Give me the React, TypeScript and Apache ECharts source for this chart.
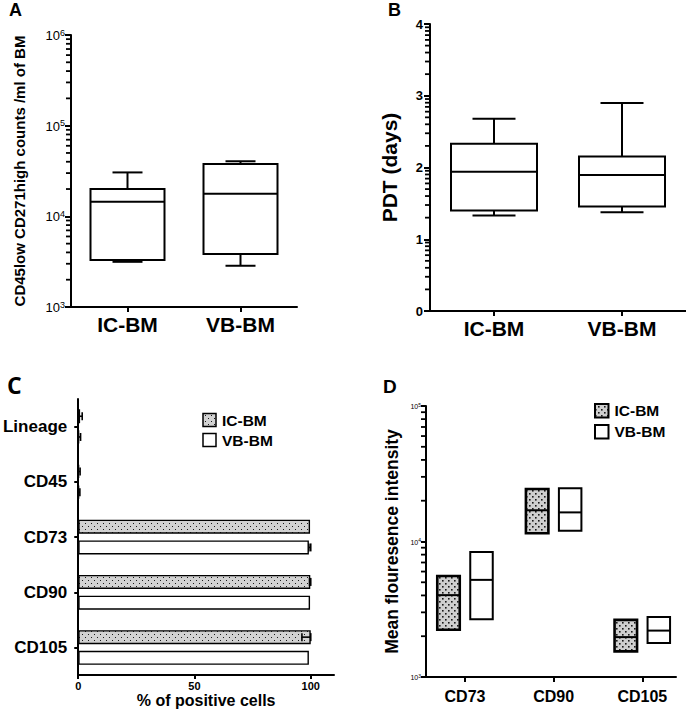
import React, { useEffect, useRef } from 'react';
import * as echarts from 'echarts';

// ---------- data ----------
const groupsAB = ['IC-BM', 'VB-BM'];
// Panel A: CD45low CD271high counts (min, Q1, median, Q3, max)
const countsBox = [
  [3150, 3300, 14500, 20000, 30500],
  [2850, 3850, 17700, 37800, 40500],
];
// Panel B: PDT days (min, Q1, median, Q3, max)
const pdtBox = [
  [1.33, 1.4, 1.94, 2.33, 2.68],
  [1.375, 1.455, 1.895, 2.155, 2.9],
];
// Panel C: % of positive cells
const markersC = ['Lineage', 'CD45', 'CD73', 'CD90', 'CD105'];
const icPct = [0.8, 0.3, 99.7, 99.8, 100];
const vbPct = [0.3, 0.3, 99.2, 99.7, 99.2];
const icErrLo = [0, 0, 99.7, 99.5, 96.2];
const icErrHi = [1.7, 0.8, 99.7, 100, 100];
const vbErrLo = [0, 0, 99.2, 99.7, 99.2];
const vbErrHi = [1.0, 0.7, 100, 99.7, 99.2];
const pctTicks = [0, 50, 100];
// Panel D: mean fluorescence intensity (low, median, high)
const markersD = ['CD73', 'CD90', 'CD105'];
const icMfi = [
  [2230, 4020, 5570],
  [11500, 17000, 24400],
  [1545, 1970, 2640],
];
const vbMfi = [
  [2670, 5210, 8370],
  [12000, 16400, 24700],
  [1780, 2200, 2770],
];
const legendNames = ['IC-BM', 'VB-BM'];
const minorMultipliers = [2, 3, 4, 5, 6, 7, 8, 9];

const FONT = '"Liberation Sans", Arial, sans-serif';

export default function App() {
  const ref = useRef<HTMLDivElement>(null);
  useEffect(() => {
    const chart = echarts.init(ref.current as HTMLDivElement, null, { renderer: 'svg' });

    const makeDots = (size: number, bg: string, fg: string) => {
      const c = document.createElement('canvas');
      c.width = 6;
      c.height = 6;
      const g = c.getContext('2d') as CanvasRenderingContext2D;
      g.fillStyle = bg;
      g.fillRect(0, 0, 6, 6);
      g.fillStyle = fg;
      g.fillRect(1, 1, size, size);
      g.fillRect(4, 4, size, size);
      return { image: c.toDataURL(), repeat: 'repeat', imageWidth: 6, imageHeight: 6 } as any;
    };
    const dotsC = makeDots(1, '#d2d2d2', '#1a1a1a');
    const dotsD = makeDots(1.6, '#cfcfcf', '#1a1a1a');

    const axisLine = { show: true, onZero: false, lineStyle: { color: '#000', width: 2 } };

    const boxRender = (boxW: number, capW: number) => (params: any, api: any) => {
      const i = api.value(0);
      const c = (v: number) => api.coord([i, v]);
      const pMin = c(api.value(1));
      const pQ1 = c(api.value(2));
      const pMed = c(api.value(3));
      const pQ3 = c(api.value(4));
      const pMax = c(api.value(5));
      const x = pMin[0];
      const st = { stroke: '#000', lineWidth: 2, fill: null };
      return {
        type: 'group',
        children: [
          { type: 'line', shape: { x1: x, y1: pQ3[1], x2: x, y2: pMax[1] }, style: st },
          { type: 'line', shape: { x1: x, y1: pQ1[1], x2: x, y2: pMin[1] }, style: st },
          { type: 'line', shape: { x1: x - capW / 2, y1: pMax[1], x2: x + capW / 2, y2: pMax[1] }, style: st },
          { type: 'line', shape: { x1: x - capW / 2, y1: pMin[1], x2: x + capW / 2, y2: pMin[1] }, style: st },
          {
            type: 'rect',
            shape: { x: x - boxW / 2, y: pQ3[1], width: boxW, height: pQ1[1] - pQ3[1] },
            style: { stroke: '#000', lineWidth: 2, fill: '#fff' },
          },
          { type: 'line', shape: { x1: x - boxW / 2, y1: pMed[1], x2: x + boxW / 2, y2: pMed[1] }, style: st },
        ],
      };
    };

    const minorRender = (params: any, api: any) => {
      const p = api.coord([api.value(0), api.value(1)]);
      const cs = params.coordSys || {};
      const x0 = cs.x != null ? cs.x : p[0];
      return {
        type: 'rect',
        shape: { x: x0 - 5, y: p[1] - 0.9, width: 5, height: 1.8 },
        style: { fill: '#000' },
      };
    };

    const decadeMinors = (fromExp: number, toExp: number) => {
      const out: number[][] = [];
      for (let k = fromExp; k < toExp; k++) {
        minorMultipliers.forEach((m) => out.push([0, m * Math.pow(10, k)]));
      }
      return out;
    };
    const pdtMinors: number[][] = [];
    for (let k = 0; k < 4; k++) {
      minorMultipliers.forEach((m) => pdtMinors.push([0, k + Math.log10(m)]));
    }

    const errRender = (offset: number) => (params: any, api: any) => {
      const cat = api.value(1);
      const lo = api.coord([api.value(0), cat]);
      const hi = api.coord([api.value(2), cat]);
      const y = lo[1] + offset;
      const st = { stroke: '#000', lineWidth: 1.6 };
      return {
        type: 'group',
        children: [
          { type: 'line', shape: { x1: lo[0], y1: y, x2: hi[0], y2: y }, style: st },
          { type: 'line', shape: { x1: lo[0], y1: y - 4, x2: lo[0], y2: y + 4 }, style: st },
          { type: 'line', shape: { x1: hi[0], y1: y - 4, x2: hi[0], y2: y + 4 }, style: st },
        ],
      };
    };

    const mfiRender = (offset: number, fill: any, lw: number) => (params: any, api: any) => {
      const i = api.value(0);
      const pLow = api.coord([i, api.value(1)]);
      const pMed = api.coord([i, api.value(2)]);
      const pHigh = api.coord([i, api.value(3)]);
      const x = pLow[0] + offset;
      const w = 22.5;
      return {
        type: 'group',
        children: [
          {
            type: 'rect',
            shape: { x: x - w / 2, y: pHigh[1], width: w, height: pLow[1] - pHigh[1] },
            style: { fill, stroke: '#000', lineWidth: lw },
          },
          {
            type: 'line',
            shape: { x1: x - w / 2, y1: pMed[1], x2: x + w / 2, y2: pMed[1] },
            style: { stroke: '#000', lineWidth: 2 },
          },
        ],
      };
    };

    const supLabel = (v: number) => '{b|10}{s|' + Math.round(Math.log10(v)) + '}';

    const legendGraphic = (x: number, y: number, box: number, gap: number, fills: any[], lw: number) =>
      legendNames.flatMap((name, i) => [
        {
          type: 'rect',
          shape: { x, y: y + i * gap, width: box, height: box },
          style: { fill: fills[i], stroke: '#000', lineWidth: lw },
        },
        {
          type: 'text',
          x: x + box + 6,
          y: y + i * gap + box / 2,
          style: {
            text: name,
            fill: '#000',
            font: 'bold 15.5px ' + FONT,
            textAlign: 'left',
            textVerticalAlign: 'middle',
            align: 'left',
            verticalAlign: 'middle',
          },
        },
      ]);

    const letter = (t: string, x: number, y: number, size: number, family: string) => ({
      type: 'text',
      x,
      y,
      style: {
        text: t,
        fill: '#000',
        font: 'bold ' + size + 'px ' + family,
        textAlign: 'left',
        textVerticalAlign: 'middle',
        align: 'left',
        verticalAlign: 'middle',
      },
    });

    const minorSeries = (axis: number, data: number[][]) => ({
      type: 'custom',
      name: 'minor' + axis,
      xAxisIndex: axis,
      yAxisIndex: axis,
      data,
      clip: false,
      renderItem: minorRender,
      z: 5,
    });

    const tick = (len: number) => ({ show: true, length: len, lineStyle: { width: 2, color: '#000' } });

    const option: any = {
      animation: false,
      backgroundColor: '#fff',
      textStyle: { fontFamily: FONT, color: '#000' },
      grid: [
        { left: 71, top: 35, width: 226, height: 272 },
        { left: 430, top: 24, width: 256, height: 287 },
        { left: 76, top: 399, width: 258, height: 277 },
        { left: 426, top: 406, width: 250, height: 271 },
      ],
      xAxis: [
        {
          type: 'category',
          gridIndex: 0,
          data: groupsAB,
          axisLine,
          axisTick: { ...tick(5), alignWithLabel: true },
          axisLabel: { fontSize: 21, fontWeight: 'bold', color: '#000', margin: 7, fontFamily: FONT },
          splitLine: { show: false },
        },
        {
          type: 'category',
          gridIndex: 1,
          data: groupsAB,
          axisLine,
          axisTick: { ...tick(5), alignWithLabel: true },
          axisLabel: { fontSize: 21, fontWeight: 'bold', color: '#000', margin: 7, fontFamily: FONT },
          splitLine: { show: false },
        },
        {
          type: 'value',
          gridIndex: 2,
          min: 0,
          max: 110,
          axisLine,
          axisTick: { ...tick(4), customValues: pctTicks },
          axisLabel: { customValues: pctTicks, fontSize: 11, fontWeight: 'bold', color: '#000', margin: 5, fontFamily: FONT },
          splitLine: { show: false },
          name: '% of positive cells',
          nameLocation: 'middle',
          nameGap: 16,
          nameTextStyle: { fontSize: 16, fontWeight: 'bold', color: '#000', fontFamily: FONT },
        },
        {
          type: 'value',
          gridIndex: 3,
          min: -0.44,
          max: 2.38,
          axisLine,
          axisTick: { ...tick(5), customValues: [0, 1, 2] },
          axisLabel: {
            customValues: [0, 1, 2],
            formatter: (v: number) => markersD[Math.round(v)] || '',
            fontSize: 16,
            fontWeight: 'bold',
            color: '#000',
            margin: 11,
            fontFamily: FONT,
          },
          splitLine: { show: false },
        },
      ],
      yAxis: [
        {
          type: 'log',
          gridIndex: 0,
          min: 1000,
          max: 1000000,
          logBase: 10,
          axisLine,
          axisTick: tick(6),
          axisLabel: {
            formatter: supLabel,
            margin: 6,
            rich: {
              b: { fontSize: 13, color: '#000', fontFamily: FONT, verticalAlign: 'bottom', lineHeight: 14 },
              s: { fontSize: 9, color: '#000', fontFamily: FONT, verticalAlign: 'top', lineHeight: 9 },
            },
          },
          splitLine: { show: false },
          name: 'CD45low CD271high counts /ml of BM',
          nameLocation: 'middle',
          nameGap: 44,
          nameTextStyle: { fontSize: 15, fontWeight: 'bold', color: '#000', fontFamily: FONT },
        },
        {
          type: 'value',
          gridIndex: 1,
          min: 0,
          max: 4,
          interval: 1,
          axisLine,
          axisTick: tick(6),
          axisLabel: { fontSize: 13, fontWeight: 'bold', color: '#000', margin: 7, fontFamily: FONT },
          splitLine: { show: false },
          name: 'PDT (days)',
          nameLocation: 'middle',
          nameGap: 30,
          nameTextStyle: { fontSize: 21, fontWeight: 'bold', color: '#000', fontFamily: FONT },
        },
        {
          type: 'category',
          gridIndex: 2,
          inverse: true,
          data: markersC,
          axisLine,
          axisTick: { ...tick(4), alignWithLabel: true },
          axisLabel: { fontSize: 17, fontWeight: 'bold', color: '#000', margin: 11, fontFamily: FONT },
          splitLine: { show: false },
        },
        {
          type: 'log',
          gridIndex: 3,
          min: 1000,
          max: 100000,
          logBase: 10,
          axisLine,
          axisTick: tick(5),
          axisLabel: {
            formatter: supLabel,
            margin: 5,
            rich: {
              b: { fontSize: 7, color: '#000', fontFamily: FONT, verticalAlign: 'bottom', lineHeight: 8 },
              s: { fontSize: 5, color: '#000', fontFamily: FONT, verticalAlign: 'top', lineHeight: 5 },
            },
          },
          splitLine: { show: false },
          name: 'Mean flouresence intensity',
          nameLocation: 'middle',
          nameGap: 25,
          nameTextStyle: { fontSize: 17.5, fontWeight: 'bold', color: '#000', fontFamily: FONT },
        },
      ],
      series: [
        {
          type: 'custom',
          name: 'countsBox',
          xAxisIndex: 0,
          yAxisIndex: 0,
          data: countsBox.map((d, i) => [i, ...d]),
          renderItem: boxRender(74, 30),
        },
        minorSeries(0, decadeMinors(3, 6)),
        {
          type: 'custom',
          name: 'pdtBox',
          xAxisIndex: 1,
          yAxisIndex: 1,
          data: pdtBox.map((d, i) => [i, ...d]),
          renderItem: boxRender(86, 43),
        },
        minorSeries(1, pdtMinors),
        {
          type: 'bar',
          name: 'IC-BM',
          xAxisIndex: 2,
          yAxisIndex: 2,
          data: icPct,
          barWidth: 14,
          barGap: '48%',
          itemStyle: { color: dotsC, borderColor: '#000', borderWidth: 1.4 },
        },
        {
          type: 'bar',
          name: 'VB-BM',
          xAxisIndex: 2,
          yAxisIndex: 2,
          data: vbPct,
          barWidth: 14,
          itemStyle: { color: '#fff', borderColor: '#000', borderWidth: 1.4 },
        },
        {
          type: 'custom',
          name: 'errIC',
          xAxisIndex: 2,
          yAxisIndex: 2,
          clip: false,
          data: icErrLo.map((lo, i) => [lo, i, icErrHi[i]]).filter((d) => d[2] > d[0]),
          renderItem: errRender(-10.36),
          z: 3,
        },
        {
          type: 'custom',
          name: 'errVB',
          xAxisIndex: 2,
          yAxisIndex: 2,
          clip: false,
          data: vbErrLo.map((lo, i) => [lo, i, vbErrHi[i]]).filter((d) => d[2] > d[0]),
          renderItem: errRender(10.36),
          z: 3,
        },
        {
          type: 'custom',
          name: 'mfiIC',
          xAxisIndex: 3,
          yAxisIndex: 3,
          data: icMfi.map((d, i) => [i, ...d]),
          renderItem: mfiRender(-16.5, dotsD, 2.6),
        },
        {
          type: 'custom',
          name: 'mfiVB',
          xAxisIndex: 3,
          yAxisIndex: 3,
          data: vbMfi.map((d, i) => [i, ...d]),
          renderItem: mfiRender(16.5, '#fff', 2),
        },
        minorSeries(3, decadeMinors(3, 5)),
      ],
      graphic: [
        letter('A', 9, 10, 18, FONT),
        letter('B', 388, 10, 18, FONT),
        letter('C', 7, 385, 23, '"Open Sans", ' + FONT),
        letter('D', 383, 386, 19, FONT),
        ...legendGraphic(203, 413.5, 13, 20, [dotsC, '#fff'], 1.5),
        ...legendGraphic(595, 404, 13.5, 21, [dotsD, '#fff'], 2),
      ],
    };

    chart.setOption(option);
    return () => chart.dispose();
  }, []);

  return (
    <div
      ref={ref}
      style={{ position: 'fixed', left: 0, top: 0, width: 686, height: 709, background: '#fff' }}
    />
  );
}
